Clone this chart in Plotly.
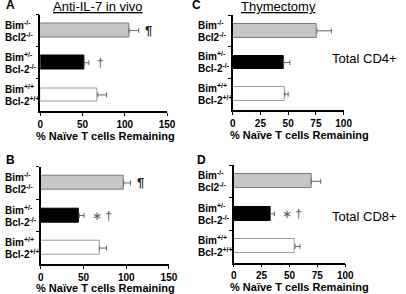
import plotly.graph_objects as go

W, H = 406, 294
FONT = "Liberation Sans"

# ---------------- data ----------------
genotypes = ["Bim-/- Bcl2-/-", "Bim+/- Bcl-2-/-", "Bim+/+ Bcl-2+/+"]
label_line1 = ["Bim<sup>-/-</sup>", "Bim<sup>+/-</sup>", "Bim<sup>+/+</sup>"]
label_line2 = ["Bcl2<sup>-/-</sup>", "Bcl-2<sup>-/-</sup>", "Bcl-2<sup>+/+</sup>"]

a_values = [105, 52, 68]
a_errors = [11.5, 5.5, 10.5]
a_marks = ["¶", "†", ""]

b_values = [97, 45, 68.5]
b_errors = [8, 5.5, 8.5]
b_marks = ["¶", "∗ †", ""]

c_values = [76, 46, 47]
c_errors = [13, 5.5, 3]
c_marks = ["", "", ""]

d_values = [69.5, 33, 55]
d_errors = [8.5, 3.5, 4.5]
d_marks = ["", "∗ †", ""]

x_ticks_150 = [0, 50, 100, 150]
x_ticks_100 = [0, 25, 50, 75, 100]

x_title = "% Naïve T cells Remaining"
titles = ["Anti-IL-7 in vivo", "", "Thymectomy", ""]
side_texts = ["", "", "Total CD4+", "Total CD8+"]
letters = ["A", "B", "C", "D"]

# ---------------- styles / layout ----------------
bar_fill = ["#c6c6c6", "#000000", "#ffffff"]
bar_line = ["#7a7a7a", "#000000", "#9a9a9a"]

panels = [
    dict(vals=a_values, errs=a_errors, marks=a_marks, ticks=x_ticks_150,
         px=(38.5, 169), py=(14.5, 111), letter=(1, 5.5), label_x=0, title_x=98,
         xtitle_x=106, xtitle_shift=-17, side=None),
    dict(vals=b_values, errs=b_errors, marks=b_marks, ticks=x_ticks_150,
         px=(39, 171), py=(166.7, 264.3), letter=(1, 160), label_x=0, title_x=None,
         xtitle_x=106, xtitle_shift=-15.5, side=None),
    dict(vals=c_values, errs=c_errors, marks=c_marks, ticks=x_ticks_100,
         px=(236.7, 351), py=(15, 110), letter=(193, 5.5), label_x=199, title_x=284,
         xtitle_x=306, xtitle_shift=-17, side=(337, 58)),
    dict(vals=d_values, errs=d_errors, marks=d_marks, ticks=x_ticks_100,
         px=(237.7, 352.7), py=(165, 262.7), letter=(198, 160), label_x=199, title_x=None,
         xtitle_x=306, xtitle_shift=-16, side=(337, 216)),
]


def ax_id(letter, n):
    return letter if n == 1 else f"{letter}{n}"


fig = go.Figure()
annotations = []
layout = {}

for i, p in enumerate(panels):
    n = i + 1
    xa, ya = ax_id("x", n), ax_id("y", n)
    xdom = [p["px"][0] / W, p["px"][1] / W]
    ydom = [1 - p["py"][1] / H, 1 - p["py"][0] / H]
    xmax = p["ticks"][-1]

    fig.add_trace(go.Bar(
        x=p["vals"], y=genotypes, orientation="h", xaxis=xa, yaxis=ya,
        width=0.43, showlegend=False, hoverinfo="skip",
        marker=dict(color=bar_fill, line=dict(color=bar_line, width=1)),
        error_x=dict(type="data", array=p["errs"], arrayminus=[0, 0, 0],
                     symmetric=False, color="#666666", thickness=1, width=2.5),
    ))

    layout[ax_id("xaxis", n)] = dict(
        domain=xdom, anchor=ya, range=[0, xmax], tickvals=p["ticks"],
        ticks="outside", ticklen=3, tickwidth=1.2, tickcolor="black",
        showline=True, linecolor="black", linewidth=1.5,
        showgrid=False, zeroline=False,
        tickfont=dict(family=FONT, size=10, color="black", weight="bold"),
    )
    layout[ax_id("yaxis", n)] = dict(
        domain=ydom, anchor=xa, type="category", categoryorder="array",
        categoryarray=genotypes, range=[2.5, -0.5],
        tickson="boundaries", ticks="outside", ticklen=3, tickwidth=1.2,
        tickcolor="black", showticklabels=False,
        showline=True, linecolor="black", linewidth=1.5,
        showgrid=False, zeroline=False,
    )
    # overlay axes for inward half of the crossing ticks
    layout[f"xaxis{n + 4}"] = dict(
        overlaying=xa, anchor=ya, range=[0, xmax], tickvals=p["ticks"],
        ticks="inside", ticklen=3, tickwidth=1.2, tickcolor="black",
        showticklabels=False, showline=False, showgrid=False, zeroline=False,
    )
    layout[f"yaxis{n + 4}"] = dict(
        overlaying=ya, anchor=xa, type="linear", range=[2.5, -0.5],
        tickvals=[-0.5, 0.5, 1.5, 2.5],
        ticks="inside", ticklen=3, tickwidth=1.2, tickcolor="black",
        showticklabels=False, showline=False, showgrid=False, zeroline=False,
    )

    # category labels
    for g, l1, l2 in zip(genotypes, label_line1, label_line2):
        for txt, ys in ((l1, 6), (l2, -6)):
            annotations.append(dict(
                text=txt, xref="paper", x=p["label_x"] / W, xanchor="left",
                yref=ya, y=g, yanchor="middle", yshift=ys, showarrow=False,
                align="left", font=dict(family=FONT, size=10, color="black", weight="bold"),
            ))

    # significance marks
    for g, v, e, m in zip(genotypes, p["vals"], p["errs"], p["marks"]):
        if m:
            bold = m == "¶"
            annotations.append(dict(
                text=m, xref=xa, x=v + e, xanchor="left", xshift=4 if bold else 6,
                yref=ya, y=g, yanchor="middle", showarrow=False,
                font=dict(family=FONT, size=13 if bold else 12,
                          color="#222222" if bold else "#555555",
                          weight="bold" if bold else "normal"),
            ))

    # x-axis title
    annotations.append(dict(
        text=x_title, xref="paper", x=p["xtitle_x"] / W, xanchor="center",
        yref=f"{ya} domain", y=0, yanchor="top", yshift=p["xtitle_shift"],
        showarrow=False,
        font=dict(family=FONT, size=11, color="black", weight="bold"),
    ))

    # panel letter
    annotations.append(dict(
        text=letters[i], xref="paper", x=p["letter"][0] / W, xanchor="left",
        yref="paper", y=1 - p["letter"][1] / H, yanchor="middle", showarrow=False,
        font=dict(family=FONT, size=12, color="black", weight="bold"),
    ))

    if titles[i]:
        annotations.append(dict(
            text=f"<u>{titles[i]}</u>", xref="paper", x=p["title_x"] / W,
            xanchor="center", yref="paper", y=1 - 6.5 / H, yanchor="middle",
            showarrow=False, font=dict(family=FONT, size=13, color="black"),
        ))
    if side_texts[i]:
        annotations.append(dict(
            text=side_texts[i], xref="paper", x=p["side"][0] / W, xanchor="left",
            yref="paper", y=1 - p["side"][1] / H, yanchor="middle",
            showarrow=False, font=dict(family=FONT, size=13, color="black"),
        ))

fig.update_layout(
    width=W, height=H, margin=dict(l=0, r=0, t=0, b=0),
    paper_bgcolor="white", plot_bgcolor="white",
    annotations=annotations, bargap=0, **layout,
)

fig.write_html(
    "out.html",
    config={"displayModeBar": False},
    post_script="document.body.style.margin='0';document.body.style.padding='0';",
)
